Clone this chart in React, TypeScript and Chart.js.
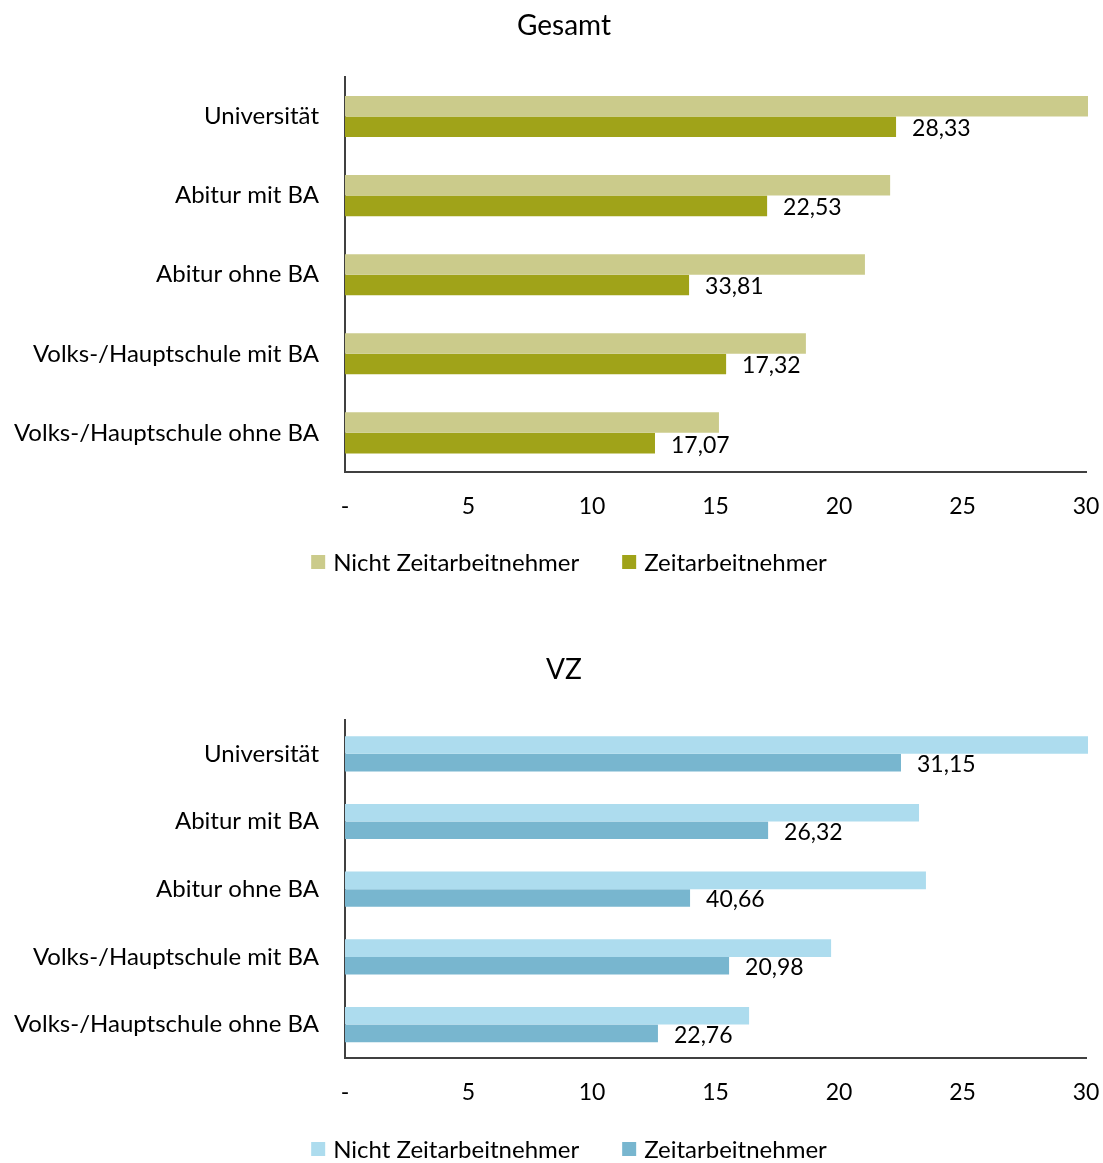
import React, { useEffect, useRef } from 'react';
import { Chart, registerables } from 'chart.js';

Chart.register(...registerables);

const categories = [
  'Universität',
  'Abitur mit BA',
  'Abitur ohne BA',
  'Volks-/Hauptschule mit BA',
  'Volks-/Hauptschule ohne BA',
];
const seriesNames = ['Nicht Zeitarbeitnehmer', 'Zeitarbeitnehmer'];

const gesamtNicht = [31.13, 22.07, 21.05, 18.66, 15.14];
const gesamtZeit = [22.31, 17.09, 13.93, 15.43, 12.55];
const gesamtLabels = ['28,33', '22,53', '33,81', '17,32', '17,07'];

const vzNicht = [32.69, 23.24, 23.52, 19.68, 16.36];
const vzZeit = [22.51, 17.13, 13.97, 15.55, 12.67];
const vzLabels = ['31,15', '26,32', '40,66', '20,98', '22,76'];

const xMin = 0;
const xMax = 30;
const xStep = 5;

const FONT = 'Lato, "Open Sans", sans-serif';
const CANVAS_W = 1103;

type Spec = {
  title: string;
  nicht: number[];
  zeit: number[];
  labels: string[];
  colors: [string, string];
  height: number;
  titleY: number;
  topPad: number;
  bottomPad: number;
  legendY: number;
};

const specs: Spec[] = [
  {
    title: 'Gesamt',
    nicht: gesamtNicht,
    zeit: gesamtZeit,
    labels: gesamtLabels,
    colors: ['#CBCB8B', '#A0A319'],
    height: 600,
    titleY: 26,
    topPad: 77,
    bottomPad: 80,
    legendY: 562,
  },
  {
    title: 'VZ',
    nicht: vzNicht,
    zeit: vzZeit,
    labels: vzLabels,
    colors: ['#ADDCEE', '#78B6CF'],
    height: 563,
    titleY: 70,
    topPad: 120,
    bottomPad: 57,
    legendY: 549,
  },
];

function ChartBox({ spec }: { spec: Spec }) {
  const ref = useRef<HTMLCanvasElement | null>(null);
  useEffect(() => {
    if (!ref.current) return;
    const valueLabels = {
      id: 'valueLabels',
      afterDatasetsDraw(chart: any) {
        const ctx = chart.ctx;
        const meta = chart.getDatasetMeta(1);
        ctx.save();
        ctx.font = `23px ${FONT}`;
        ctx.fillStyle = '#000';
        ctx.textAlign = 'left';
        ctx.textBaseline = 'middle';
        meta.data.forEach((el: any, i: number) => {
          ctx.fillText(spec.labels[i], el.x + 16, el.y + 2);
        });
        ctx.restore();
      },
    };
    const titleAndLegend = {
      id: 'titleAndLegend',
      afterDraw(chart: any) {
        const ctx = chart.ctx;
        ctx.save();
        ctx.fillStyle = '#000';
        ctx.font = `28px ${FONT}`;
        ctx.textAlign = 'center';
        ctx.textBaseline = 'middle';
        ctx.fillText(spec.title, 564, spec.titleY);

        ctx.font = `24px ${FONT}`;
        ctx.textAlign = 'left';
        const box = 14;
        const gapText = 8;
        const gapItem = 43;
        const widths = seriesNames.map((n) => box + gapText + ctx.measureText(n).width);
        const total = widths.reduce((a, b) => a + b, 0) + gapItem * (widths.length - 1);
        let x = 569 - total / 2;
        const y = spec.legendY;
        seriesNames.forEach((n, i) => {
          ctx.fillStyle = spec.colors[i];
          ctx.fillRect(x, y - box / 2, box, box);
          ctx.fillStyle = '#000';
          ctx.fillText(n, x + box + gapText, y + 1);
          x += widths[i] + gapItem;
        });
        ctx.restore();
      },
    };
    const chart = new Chart(ref.current, {
      type: 'bar',
      data: {
        labels: categories,
        datasets: [
          {
            label: seriesNames[0],
            data: spec.nicht,
            backgroundColor: spec.colors[0],
            categoryPercentage: 0.52,
            barPercentage: 1,
            clip: 2,
          },
          {
            label: seriesNames[1],
            data: spec.zeit,
            backgroundColor: spec.colors[1],
            categoryPercentage: 0.52,
            barPercentage: 1,
            clip: 2,
          },
        ],
      },
      options: {
        indexAxis: 'y',
        responsive: false,
        animation: false,
        devicePixelRatio: 1,
        layout: { padding: { left: 0, right: 17, top: spec.topPad, bottom: spec.bottomPad } },
        font: { family: FONT },
        plugins: {
          title: { display: false },
          legend: { display: false },
          tooltip: { enabled: false },
        },
        scales: {
          x: {
            min: xMin,
            max: xMax,
            grid: { display: false, drawTicks: true, tickLength: 20 },
            border: { display: true, color: '#404040', width: 2 },
            ticks: {
              stepSize: xStep,
              color: '#000',
              padding: 0,
              font: { family: FONT, size: 23 },
              callback: (v: any) => (Number(v) === 0 ? '-' : String(v)),
            },
          },
          y: {
            grid: { display: false, drawTicks: false },
            border: { display: true, color: '#404040', width: 2 },
            ticks: {
              color: '#000',
              padding: 26,
              font: { family: FONT, size: 24 },
            },
            afterFit: (scale: any) => {
              scale.width = 345;
            },
          },
        },
      },
      plugins: [valueLabels, titleAndLegend],
    } as any);
    return () => chart.destroy();
  }, [spec]);
  return <canvas ref={ref} width={CANVAS_W} height={spec.height} style={{ display: 'block' }} />;
}

export default function App() {
  return (
    <div
      style={{
        position: 'absolute',
        left: 0,
        top: 0,
        width: 1103,
        height: 1163,
        overflow: 'hidden',
        background: '#fff',
      }}
    >
      <ChartBox spec={specs[0]} />
      <ChartBox spec={specs[1]} />
    </div>
  );
}
